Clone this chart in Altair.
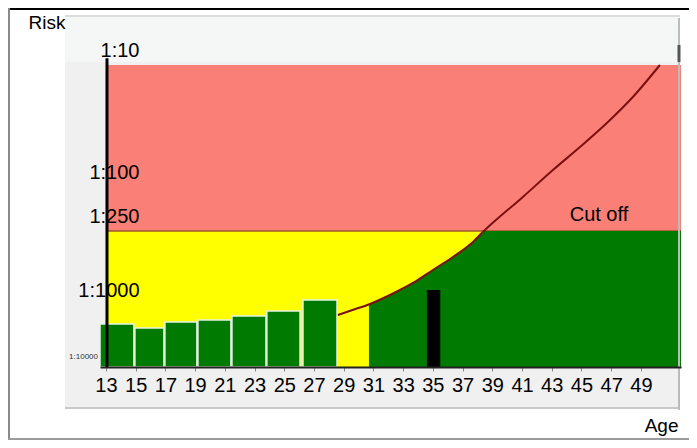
import altair as alt
import pandas as pd

# ---- data ----
tick_risks = [10, 100, 250, 1000]          # risk denominators shown on the y axis (1:N)
age_ticks = list(range(13, 50, 2))

bar_start = [12.6, 14.95, 16.97, 19.19, 21.48, 23.83, 26.26]
bar_end = [14.88, 16.90, 19.12, 21.41, 23.77, 26.06, 28.55]
bar_risk = [2025, 2350, 1880, 1746, 1504, 1250, 911]

curve_age = [28.61, 29.69, 30.77, 32.11, 33.66, 35.00, 36.35, 37.70, 38.44, 41.06, 43.08, 44.90, 46.71, 48.46, 50.28]
curve_risk = [1449, 1182, 981, 829, 662, 519, 407, 307, 250, 123, 72.6, 47, 29.9, 18.3, 10]

area_age = [30.7, 32.11, 33.66, 35.0, 36.35, 37.70, 38.44, 51.7]
area_risk = [985, 829, 662, 519, 407, 307, 250, 250]

marker_start = [34.6]
marker_end = [35.5]
marker_risk = [755]

cutoff = 250
risk_floor = 10000
age_min, age_max = 12.6, 51.7
axis_age = 13.07

FONT = "Liberation Sans"
W, H = 581, 352

xscale = alt.Scale(domain=[age_min, age_max], nice=False, zero=False)
yscale = alt.Scale(type="log", domain=[10, 100, 250, 1000, 10000],
                   range=[50, 172, 216, 290, 352], nice=False)

xaxis = alt.Axis(values=age_ticks, labelFontSize=20, labelFont=FONT, labelColor="black",
                 tickSize=4, tickColor="#888", labelPadding=4, domainColor="#222",
                 domainWidth=2, grid=False, title="Age", titleFont=FONT, titleFontSize=19,
                 titleFontWeight="normal", titleColor="black", titleX=578, titleY=58,
                 titleAlign="right", titleBaseline="middle", labelFlush=False, zindex=1)
yaxis = alt.Axis(values=tick_risks, labelExpr="'1:' + datum.value", labelFontSize=20,
                 labelFont=FONT, labelColor="black", ticks=False, domain=False, grid=False,
                 labelAlign="right", labelBaseline="middle", labelPadding=-39, labelOffset=-15,
                 title="Risk", titleFont=FONT, titleFontSize=19, titleFontWeight="normal",
                 titleColor="black", titleAngle=0, titleX=-72, titleY=7, titleAlign="left",
                 titleBaseline="middle", zindex=1)


def X(f):
    return alt.X(f, type="quantitative", scale=xscale, axis=xaxis)


def Y(f):
    return alt.Y(f, type="quantitative", scale=yscale, axis=yaxis)


bands = pd.DataFrame({"a0": [axis_age, axis_age], "a1": [age_max, age_max],
                      "r0": [10, cutoff], "r1": [cutoff, risk_floor],
                      "zone": ["high", "low"]})
bars = pd.DataFrame({"a0": bar_start, "a1": bar_end, "r": bar_risk, "rb": [risk_floor] * len(bar_risk)})
curve = pd.DataFrame({"age": curve_age, "risk": curve_risk})
area = pd.DataFrame({"age": area_age, "risk": area_risk, "rb": [risk_floor] * len(area_age)})
marker = pd.DataFrame({"a0": marker_start, "a1": marker_end, "r": marker_risk, "rb": [risk_floor]})
cut = pd.DataFrame({"a0": [axis_age], "a1": [age_max], "r": [cutoff]})
yline = pd.DataFrame({"a": [axis_age], "r0": [8.8], "r1": [risk_floor]})
cuttext = pd.DataFrame({"age": [46.18], "r": [cutoff], "t": ["Cut off"]})
smalltext = pd.DataFrame({"r": [risk_floor], "t": ["1:10000"]})

# decorations (frame and panel)
one = pd.DataFrame({"k": [0]})
panel = alt.Chart(one).mark_rect(color="#f0f0f0").encode(
    x=alt.value(-35), x2=alt.value(580), y=alt.value(0), y2=alt.value(393))
panel_top = alt.Chart(one).mark_rect(color="#f5f7f7").encode(
    x=alt.value(-35), x2=alt.value(580), y=alt.value(2), y2=alt.value(47))
panel_topline = alt.Chart(one).mark_rule(color="#dcdcdc", strokeWidth=2).encode(
    x=alt.value(-35), x2=alt.value(580), y=alt.value(1))
panel_bottom = alt.Chart(one).mark_rule(color="#c8c8c8", strokeWidth=2).encode(
    x=alt.value(-35), x2=alt.value(580), y=alt.value(393))
panel_right = alt.Chart(one).mark_rule(color="#bbbbbb", strokeWidth=2).encode(
    x=alt.value(579), y=alt.value(3), y2=alt.value(395))
panel_right_dark = alt.Chart(one).mark_rule(color="#555555", strokeWidth=3).encode(
    x=alt.value(579), y=alt.value(30), y2=alt.value(47))
frame_top = alt.Chart(one).mark_rule(color="black", strokeWidth=2).encode(
    x=alt.value(-92), x2=alt.value(589), y=alt.value(-6))
frame_left = alt.Chart(one).mark_rule(color="#8a8a8a", strokeWidth=2).encode(
    x=alt.value(-91), y=alt.value(-7), y2=alt.value(425))
frame_bottom = alt.Chart(one).mark_rule(color="#9a9a9a", strokeWidth=2).encode(
    x=alt.value(-92), x2=alt.value(589), y=alt.value(424))

band_layer = alt.Chart(bands).mark_rect().encode(
    x=X("a0"), x2="a1", y=Y("r0"), y2="r1",
    color=alt.Color("zone:N", scale=alt.Scale(domain=["high", "low"], range=["#fa8077", "#ffff00"]), legend=None))
cut_layer = alt.Chart(cut).mark_rule(color="#9a5a2a", strokeWidth=1.5).encode(
    x=X("a0"), x2="a1", y=Y("r"))
bar_layer = alt.Chart(bars).mark_rect(color="#007a00", stroke="#e6f2e6", strokeWidth=1.5).encode(
    x=X("a0"), x2="a1", y=Y("r"), y2="rb")
area_layer = alt.Chart(area).mark_area(color="#007a00", interpolate="monotone").encode(
    x=X("age"), y=Y("risk"), y2="rb")
marker_layer = alt.Chart(marker).mark_rect(color="black").encode(
    x=X("a0"), x2="a1", y=Y("r"), y2="rb")
curve_layer = alt.Chart(curve).mark_line(color="#7b1010", strokeWidth=2, interpolate="monotone").encode(
    x=X("age"), y=Y("risk"))
yline_layer = alt.Chart(yline).mark_rule(color="black", strokeWidth=3).encode(
    x=X("a"), y=Y("r0"), y2="r1")
cut_text = alt.Chart(cuttext).mark_text(font=FONT, fontSize=20, color="black", dy=-16).encode(
    x=X("age"), y=Y("r"), text="t")
small_text = alt.Chart(smalltext).mark_text(font=FONT, fontSize=8, color="#333", align="right", dy=-10).encode(
    x=alt.value(-2), y=Y("r"), text="t")

chart = alt.layer(
    panel, panel_top, panel_topline, panel_bottom,
    band_layer, cut_layer, bar_layer, area_layer, marker_layer, curve_layer, yline_layer,
    cut_text, small_text, panel_right, panel_right_dark, frame_top, frame_left, frame_bottom
).properties(
    width=W, height=H,
    autosize=alt.AutoSizeParams(type="none"),
    padding={"left": 92, "top": 7, "right": 8, "bottom": 73},
    background="white"
).configure_view(stroke=None)

chart.save("out.html", embed_options={"renderer": "svg", "actions": False})
